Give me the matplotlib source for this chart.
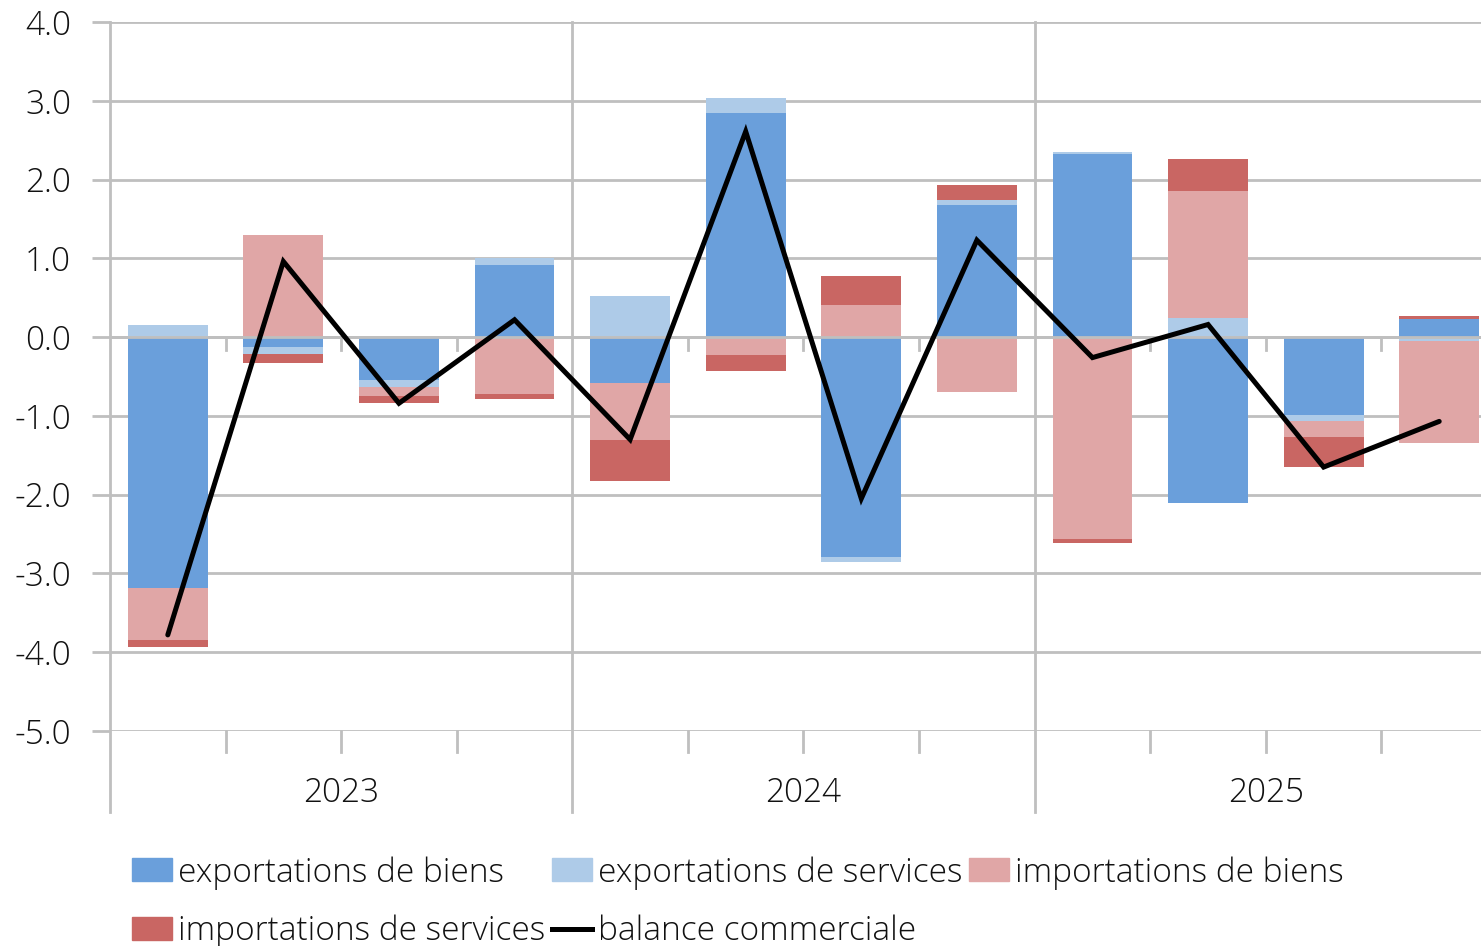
import matplotlib
matplotlib.use("Agg")
import matplotlib.pyplot as plt
from matplotlib.transforms import blended_transform_factory
from matplotlib.patches import Patch
from matplotlib.lines import Line2D
import numpy as np

plt.rcParams['font.family'] = ['Open Sans', 'DejaVu Sans']
plt.rcParams['font.weight'] = 'light'

years = ["2023", "2024", "2025"]
quarters = ["T1", "T2", "T3", "T4"] * 3

exp_biens = [-3.19, -0.12, -0.54, 0.92, -0.58, 2.84, -2.79, 1.68, 2.33, -2.10, -0.99, 0.23]
exp_services = [0.15, -0.09, -0.09, 0.09, 0.52, 0.20, -0.06, 0.06, 0.02, 0.24, -0.08, -0.05]
imp_biens = [-0.65, 1.29, -0.12, -0.72, -0.72, -0.23, 0.41, -0.70, -2.56, 1.62, -0.20, -1.29]
imp_services = [-0.09, -0.12, -0.09, -0.07, -0.53, -0.20, 0.37, 0.19, -0.05, 0.40, -0.38, 0.04]
balance = [-3.78, 0.96, -0.84, 0.22, -1.30, 2.61, -2.05, 1.23, -0.26, 0.16, -1.65, -1.07]

series = [
    ("exportations de biens", exp_biens, "#6A9FDB"),
    ("exportations de services", exp_services, "#AECBE8"),
    ("importations de biens", imp_biens, "#E0A6A6"),
    ("importations de services", imp_services, "#C96663"),
]

W, H = 1481, 946
fig = plt.figure(figsize=(W / 100, H / 100), dpi=100)
ax = fig.add_axes([110 / W, 1 - 731 / H, 1387 / W, 709 / H])

grid_c = "#BFBFBF"
txt_c = "#111111"
x = np.arange(len(balance))
pos = np.zeros(len(x))
neg = np.zeros(len(x))
handles = {}
for name, vals, col in series:
    v = np.array(vals)
    bottom = np.where(v >= 0, pos, neg)
    ax.bar(x, v, bottom=bottom, width=0.69, color=col, zorder=2, linewidth=0)
    pos = pos + np.where(v >= 0, v, 0)
    neg = neg + np.where(v < 0, v, 0)
    handles[name] = Patch(color=col, label=name)

ax.plot(x, balance, color="black", lw=3.6, zorder=4, solid_joinstyle="miter",
        solid_capstyle="round")

ax.set_xlim(-0.5, 11.5)
ax.set_ylim(-5, 4)
yt = np.arange(-5, 4.01, 1.0)
ax.set_yticks(yt)
ax.set_yticklabels([f"{v:.1f}" for v in yt], fontsize=24, fontweight="light")
ax.yaxis.grid(True, color=grid_c, lw=2, zorder=0)
ax.set_axisbelow(True)
ax.tick_params(axis="y", length=13, width=2, color=grid_c, pad=15, labelcolor=txt_c)
ax.set_xticks([])
for s in ax.spines.values():
    s.set_visible(False)

# zero axis line over bars
ax.axhline(0, color=grid_c, lw=2, zorder=3)

trans = blended_transform_factory(ax.transData, ax.transAxes)
# year separators (full height, extending below axis)
for xb in [-0.5, 3.5, 7.5, 11.5]:
    ax.plot([xb, xb], [1, -0.114], transform=trans, color=grid_c, lw=2, clip_on=False, zorder=1)
# quarter ticks at bottom and at zero
for k in range(12):
    xb = k + 0.5
    if xb in (3.5, 7.5, 11.5):
        continue
    ax.plot([xb, xb], [0, -0.0296], transform=trans, color=grid_c, lw=2, clip_on=False, zorder=1)
    ax.plot([xb, xb], [0, -0.16], color=grid_c, lw=2, zorder=3)
for i, yr in enumerate(years):
    ax.text(i * 4 + 1.5, -0.088, yr, transform=trans, ha="center", va="center",
            fontsize=24, fontweight="light", color=txt_c)

line_handle = Line2D([0], [0], color="black", lw=3.6, label="balance commerciale")
order = [handles["exportations de biens"], handles["importations de services"],
         handles["exportations de services"], line_handle,
         handles["importations de biens"]]
leg = fig.legend(handles=order, loc="upper left", bbox_to_anchor=(132 / W, 1 - 856 / H),
                 ncol=3, frameon=False, handlelength=1.2, handleheight=0.68,
                 handletextpad=0.18, columnspacing=0.2, labelspacing=0.76,
                 borderaxespad=0, borderpad=0, prop={"size": 24, "weight": "light"})
for t in leg.get_texts():
    t.set_color(txt_c)

fig.savefig("out.png", dpi=100)
